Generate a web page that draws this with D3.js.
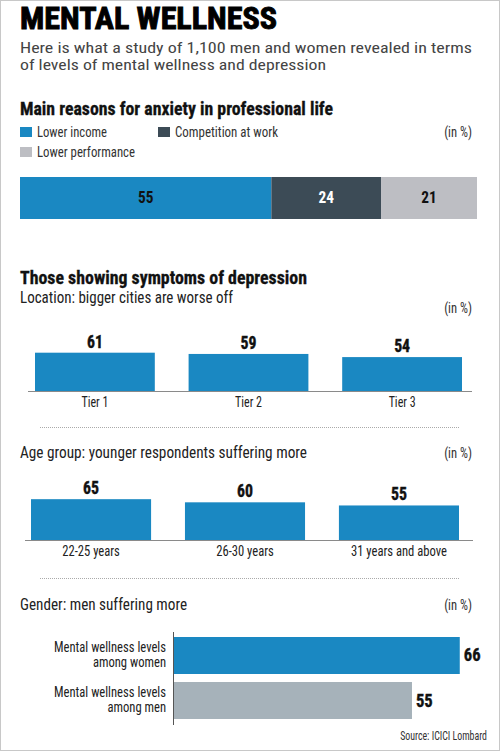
<!DOCTYPE html>
<html><head><meta charset="utf-8">
<script src="https://cdn.jsdelivr.net/npm/d3@7"></script>
<style>
html,body{margin:0;padding:0;background:#fff;}
svg{display:block;}
text{font-family:"Liberation Sans Narrow","Roboto Condensed","DejaVu Sans Condensed",Roboto,sans-serif;}
</style></head>
<body>
<svg id="c" width="500" height="751"></svg>
<script>
// ---- data ----
const anxietyCats = ["Lower income", "Competition at work", "Lower performance"];
const anxietyVals = [55, 24, 21];
const locationCats = ["Tier 1", "Tier 2", "Tier 3"];
const locationVals = [61, 59, 54];
const ageCats = ["22-25 years", "26-30 years", "31 years and above"];
const ageVals = [65, 60, 55];
const genderCats = ["Mental wellness levels|among women", "Mental wellness levels|among men"];
const genderVals = [66, 55];
const unitLabel = "(in %)";
const sourceText = "Source: ICICI Lombard";

// ---- styles ----
const BLUE = "#1a88c2", DARK = "#3c4b56", LGRAY = "#bdbec3", MEN = "#a6b2ba";
const anxietyColors = [BLUE, DARK, LGRAY];
const anxietyTextColors = ["#111", "#fff", "#111"];

const svg = d3.select("#c");
svg.append("rect").attr("x", 0.5).attr("y", 0.5).attr("width", 499).attr("height", 750)
  .attr("fill", "#fff").attr("stroke", "#c8c8c8");

// condense a text horizontally by a factor of its natural width
function cond(sel, f) {
  sel.each(function () {
    const w = this.getComputedTextLength();
    d3.select(this).attr("textLength", w * f).attr("lengthAdjust", "spacingAndGlyphs");
  });
  return sel;
}

function txt(x, y, s, o) {
  o = o || {};
  const t = svg.append("text").attr("x", x).attr("y", y).text(s)
    .attr("font-size", o.size || 15)
    .attr("font-weight", o.weight || "normal")
    .attr("fill", o.fill || "#222")
    .attr("text-anchor", o.anchor || "start");
  if (o.stroke) t.attr("stroke", o.fill).attr("stroke-width", o.stroke);
  if (o.len) t.attr("textLength", o.len).attr("lengthAdjust", "spacingAndGlyphs");
  else if (o.f) cond(t, o.f);
  return t;
}

// Title
txt(20, 29, "MENTAL WELLNESS", {size: 31, weight: "bold", fill: "#000", len: 257, stroke: 0.9});
txt(20, 53, "Here is what a study of 1,100 men and women revealed in terms", {size: 15.5, fill: "#444", len: 452});
txt(20, 70, "of levels of mental wellness and depression", {size: 15.5, fill: "#444", len: 306});

// ---- Section 1: stacked bar ----
txt(20, 115, "Main reasons for anxiety in professional life", {size: 18, weight: "bold", fill: "#111", len: 313, stroke: 0.3});
const legendPos = [[20, 127], [158, 127], [20, 147]];
const legendW = [70, 103, 98];
anxietyCats.forEach((c, i) => {
  svg.append("rect").attr("x", legendPos[i][0]).attr("y", legendPos[i][1])
    .attr("width", 12).attr("height", 10).attr("fill", anxietyColors[i]);
  txt(legendPos[i][0] + 17, legendPos[i][1] + 10, c, {size: 15, fill: "#333", len: legendW[i]});
});
txt(472, 137, unitLabel, {size: 14, fill: "#333", anchor: "end", f: 0.9});

const xs = d3.scaleLinear().domain([0, 100]).range([20, 477]);
let cum = 0;
const stack = anxietyVals.map((v, i) => { const s = {v, i, x0: cum, x1: cum + v}; cum += v; return s; });
svg.selectAll(".seg").data(stack).enter().append("rect")
  .attr("x", d => xs(d.x0)).attr("y", 177)
  .attr("width", d => xs(d.x1) - xs(d.x0)).attr("height", 42)
  .attr("fill", d => anxietyColors[d.i]);
cond(svg.selectAll(".segl").data(stack).enter().append("text")
  .attr("x", d => (xs(d.x0) + xs(d.x1)) / 2).attr("y", 203)
  .attr("text-anchor", "middle").attr("font-size", 17).attr("font-weight", "bold")
  .attr("fill", d => anxietyTextColors[d.i]).text(d => d.v), 0.9);

// ---- Section 2: location ----
txt(20, 284, "Those showing symptoms of depression", {size: 18, weight: "bold", fill: "#111", len: 287, stroke: 0.3});
txt(20, 303, "Location: bigger cities are worse off", {size: 17, fill: "#222", len: 213});
txt(472, 313, unitLabel, {size: 14, fill: "#333", anchor: "end", f: 0.9});

function columnChart(cats, vals, x0, x1, base, lineX0, lineX1, tickF) {
  const xb = d3.scaleBand().domain(cats).range([x0, x1]).paddingInner(0.22).paddingOuter(0);
  const yl = d3.scaleLinear().domain([0, 100]).range([base, base - 62.8]);
  const g = svg.append("g");
  g.selectAll("rect").data(vals).enter().append("rect")
    .attr("x", (d, i) => xb(cats[i])).attr("width", xb.bandwidth())
    .attr("y", d => yl(d)).attr("height", d => base - yl(d)).attr("fill", BLUE);
  cond(g.selectAll(".v").data(vals).enter().append("text")
    .attr("x", (d, i) => xb(cats[i]) + xb.bandwidth() / 2).attr("y", d => yl(d) - 5)
    .attr("text-anchor", "middle").attr("font-size", 17.5).attr("font-weight", "bold")
    .attr("stroke", "#111").attr("stroke-width", 0.4)
    .attr("fill", "#111").text(d => d), 0.9);
  g.append("line").attr("x1", lineX0).attr("x2", lineX1).attr("y1", base + 0.5).attr("y2", base + 0.5)
    .attr("stroke", "#8a8a8a").attr("stroke-width", 1);
  const ax = d3.axisBottom(xb).tickSize(0).tickPadding(5);
  const ag = g.append("g").attr("transform", `translate(0,${base})`).call(ax);
  ag.select(".domain").remove();
  ag.selectAll("text").attr("font-size", 15).attr("fill", "#222")
    .attr("font-family", '"Liberation Sans Narrow","Roboto Condensed",Roboto,sans-serif');
  cond(ag.selectAll("text"), tickF);
}
columnChart(locationCats, locationVals, 35, 462, 391, 28, 472, 0.8);

// divider
function divider(y) {
  svg.append("line").attr("x1", 40).attr("x2", 460).attr("y1", y).attr("y2", y)
    .attr("stroke", "#aaa").attr("stroke-width", 1).attr("stroke-dasharray", "1,1");
}
divider(427.5);

// ---- Section 3: age ----
txt(20, 458, "Age group: younger respondents suffering more", {size: 17, fill: "#222", len: 287});
txt(472, 458, unitLabel, {size: 14, fill: "#333", anchor: "end", f: 0.9});
columnChart(ageCats, ageVals, 31, 459, 540, 25, 473, 0.84);

divider(578.5);

// ---- Section 4: gender ----
txt(20, 610, "Gender: men suffering more", {size: 17, fill: "#222", len: 167});
txt(472, 610, unitLabel, {size: 14, fill: "#333", anchor: "end", f: 0.9});

const gy = d3.scaleBand().domain(genderCats).range([637, 719]).paddingInner(0.178).paddingOuter(0);
const gx = d3.scaleLinear().domain([0, 100]).range([173, 607.5]);
const genderColors = [BLUE, MEN];
svg.selectAll(".gb").data(genderVals).enter().append("rect")
  .attr("x", gx(0)).attr("y", (d, i) => gy(genderCats[i]))
  .attr("width", d => gx(d) - gx(0)).attr("height", gy.bandwidth())
  .attr("fill", (d, i) => genderColors[i]);
cond(svg.selectAll(".gv").data(genderVals).enter().append("text")
  .attr("x", d => gx(d) + 4).attr("y", (d, i) => gy(genderCats[i]) + gy.bandwidth() / 2 + 6)
  .attr("font-size", 18).attr("font-weight", "bold").attr("fill", "#111")
  .attr("stroke", "#111").attr("stroke-width", 0.4).text(d => d), 0.92);
genderCats.forEach((c, i) => {
  const lines = c.split("|");
  const cy = gy(c) + gy.bandwidth() / 2;
  lines.forEach((l, j) => {
    txt(166, cy - 3.5 + j * 15, l, {size: 14, fill: "#222", anchor: "end", f: 0.9});
  });
});
svg.append("line").attr("x1", 173.5).attr("x2", 173.5).attr("y1", 632).attr("y2", 725)
  .attr("stroke", "#555").attr("stroke-width", 1);

// source: condensed via a transform so its box matches what is drawn
svg.append("g").attr("transform", "translate(487,740) scale(0.76,1)")
  .append("text").attr("x", 0).attr("y", 0).attr("text-anchor", "end")
  .attr("font-size", 13).attr("fill", "#333").text(sourceText);
</script>
</body></html>
